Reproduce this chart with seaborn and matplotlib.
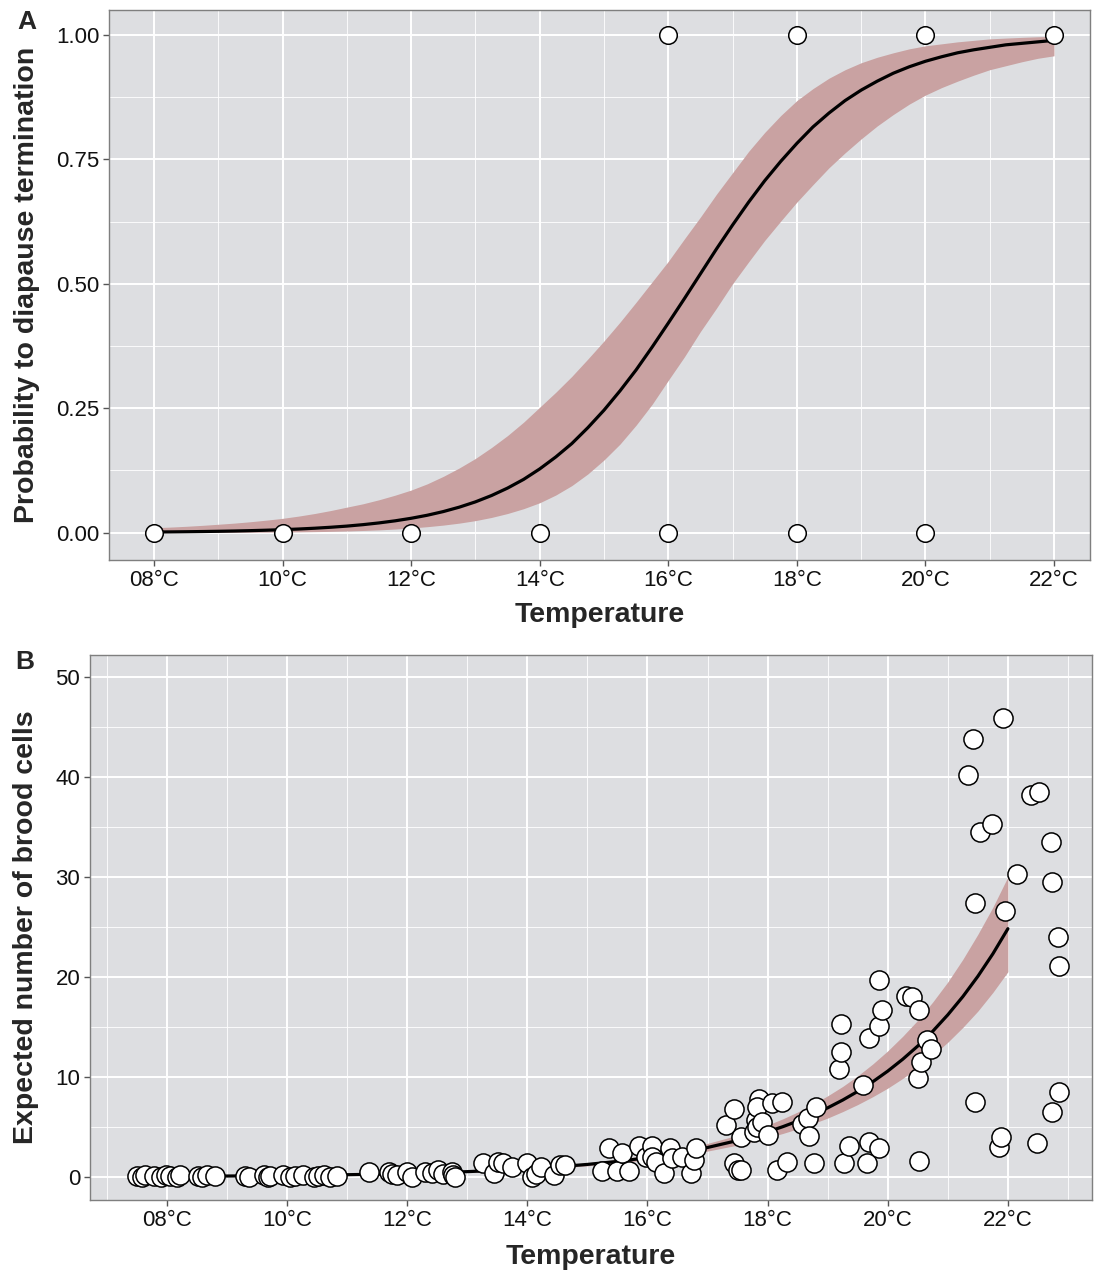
import numpy as np
import pandas as pd
import matplotlib
matplotlib.use("Agg")
import matplotlib.pyplot as plt
import seaborn as sns
from matplotlib.ticker import MultipleLocator

# panel A: observed termination (0/1) per temperature
temp_a = [8, 10, 12, 14, 16, 18, 20, 16, 18, 20, 22]
term_a = [0, 0, 0, 0, 0, 0, 0, 1, 1, 1, 1]

# fitted probability curve and confidence band, read every 0.25 degC
fit_temp_a = np.arange(8, 22.01, 0.25)
fit_a = [0.0012, 0.00147, 0.0018, 0.00219, 0.00268, 0.00327, 0.00399, 0.00487,
         0.00594, 0.00725, 0.00884, 0.0108, 0.0131, 0.016, 0.0195, 0.0237,
         0.0288, 0.0349, 0.0423, 0.0512, 0.0618, 0.0745, 0.0895, 0.107,
         0.128, 0.152, 0.179, 0.211, 0.246, 0.285, 0.327, 0.373,
         0.421, 0.470, 0.520, 0.570, 0.618, 0.664, 0.707, 0.746,
         0.782, 0.815, 0.843, 0.868, 0.889, 0.907, 0.923, 0.936,
         0.947, 0.956, 0.964, 0.970, 0.975, 0.980, 0.983, 0.986, 0.989]
low_a = [0.00015, 0.00019, 0.00025, 0.00033, 0.00042, 0.00055, 0.00072, 0.00093,
         0.0012, 0.00155, 0.002, 0.00255, 0.0033, 0.0043, 0.0055, 0.0072,
         0.0093, 0.0119, 0.0151, 0.0191, 0.0241, 0.0305, 0.0384, 0.0481,
         0.060, 0.0755, 0.0945, 0.118, 0.146, 0.178, 0.216, 0.258,
         0.306, 0.353, 0.404, 0.451, 0.500, 0.544, 0.587, 0.626,
         0.664, 0.699, 0.733, 0.763, 0.791, 0.817, 0.840, 0.861,
         0.879, 0.894, 0.907, 0.919, 0.930, 0.938, 0.946, 0.953, 0.958]
up_a = [0.0098, 0.0111, 0.0127, 0.0146, 0.0168, 0.0191, 0.0219, 0.0251,
        0.0287, 0.0332, 0.0384, 0.0444, 0.0512, 0.0579, 0.066, 0.0752,
        0.0855, 0.098, 0.113, 0.130, 0.149, 0.171, 0.195, 0.222,
        0.252, 0.282, 0.314, 0.349, 0.385, 0.423, 0.463, 0.504,
        0.545, 0.590, 0.634, 0.680, 0.723, 0.766, 0.804, 0.838,
        0.868, 0.892, 0.913, 0.930, 0.944, 0.955, 0.964, 0.972,
        0.978, 0.982, 0.986, 0.989, 0.992, 0.9936, 0.995, 0.9962, 0.997]

# panel B: brood cells per female vs temperature
temp_b = [7.50, 7.58, 7.63, 7.78, 7.91, 7.98, 8.05, 8.16, 8.22, 8.52, 8.58, 8.66, 8.80,
          9.30, 9.36, 9.61, 9.68, 9.72, 9.94, 10.05, 10.13, 10.27, 10.45, 10.52, 10.62, 10.72, 10.83,
          11.36, 11.69, 11.75, 11.83, 12.00, 12.08, 12.30, 12.41, 12.52, 12.60, 12.74, 12.77, 12.80,
          13.27, 13.44, 13.52, 13.60, 13.74, 13.99, 14.08, 14.15, 14.22, 14.44, 14.55, 14.63,
          15.24, 15.36, 15.49, 15.58, 15.69, 15.86, 15.97, 16.08, 16.08, 16.15, 16.27, 16.38, 16.41,
          16.58, 16.72, 16.77, 16.80,
          17.30, 17.44, 17.44, 17.50, 17.55, 17.55, 17.77, 17.80, 17.83, 17.86, 17.83, 17.91, 18.00,
          18.08, 18.16, 18.24, 18.33, 18.57, 18.67, 18.80, 18.69, 18.77,
          19.19, 19.22, 19.22, 19.27, 19.36, 19.58, 19.66, 19.68, 19.69, 19.85, 19.86, 19.86, 19.91,
          20.30, 20.41, 20.50, 20.52, 20.52, 20.55, 20.65, 20.72,
          21.33, 21.42, 21.45, 21.46, 21.53, 21.73, 21.85, 21.88, 21.92, 21.95, 22.15, 22.39, 22.48,
          22.51, 22.72, 22.73, 22.74, 22.84, 22.85, 22.85]
cells_b = [0.1, 0.0, 0.2, 0.1, 0.0, 0.2, 0.1, 0.0, 0.2, 0.1, 0.0, 0.2, 0.1,
           0.1, 0.0, 0.2, 0.0, 0.1, 0.2, 0.0, 0.1, 0.2, 0.0, 0.1, 0.2, 0.0, 0.1,
           0.5, 0.5, 0.3, 0.2, 0.5, 0.0, 0.5, 0.4, 0.7, 0.3, 0.5, 0.2, 0.0,
           1.4, 0.4, 1.5, 1.4, 1.0, 1.4, 0.0, 0.3, 1.0, 0.2, 1.2, 1.2,
           0.6, 2.9, 0.6, 2.4, 0.6, 3.1, 2.0, 3.1, 2.0, 1.5, 0.4, 2.9, 1.9,
           2.0, 0.4, 1.7, 2.9,
           5.2, 6.8, 1.4, 0.7, 0.7, 4.0, 4.5, 5.7, 5.0, 7.8, 7.0, 5.5, 4.2,
           7.4, 0.7, 7.5, 1.5, 5.3, 5.9, 7.0, 4.1, 1.4,
           10.8, 12.5, 15.3, 1.4, 3.1, 9.2, 1.4, 13.9, 3.5, 2.9, 15.1, 19.7, 16.7,
           18.1, 18.0, 9.9, 16.7, 1.6, 11.5, 13.7, 12.8,
           40.2, 43.8, 27.4, 7.5, 34.5, 35.3, 3.0, 4.0, 45.9, 26.6, 30.3, 38.2, 3.4,
           38.5, 33.5, 29.5, 6.5, 24.0, 21.1, 8.5]

# fitted expected number of brood cells and band
fit_temp_b = [7.5, 8, 8.5, 9, 9.5, 10, 10.5, 11, 11.5, 12, 12.5, 13, 13.5, 14, 14.5,
              15, 15.5, 16, 16.5, 17, 17.5, 18, 18.25, 18.5, 18.75, 19, 19.25, 19.5,
              19.75, 20, 20.25, 20.5, 20.75, 21, 21.25, 21.5, 21.75, 22]
fit_b = [0.052, 0.064, 0.079, 0.098, 0.121, 0.150, 0.185, 0.229, 0.283, 0.351,
         0.434, 0.537, 0.664, 0.822, 1.017, 1.259, 1.557, 1.927, 2.385, 2.951,
         3.651, 4.518, 5.025, 5.590, 6.218, 6.917, 7.694, 8.559, 9.522, 10.59,
         11.78, 13.10, 14.58, 16.22, 18.04, 20.07, 22.32, 24.83]
low_b = [0.036, 0.046, 0.058, 0.073, 0.092, 0.117, 0.147, 0.186, 0.233, 0.293,
         0.368, 0.462, 0.577, 0.722, 0.897, 1.117, 1.381, 1.709, 2.104, 2.591,
         3.190, 3.928, 4.347, 4.811, 5.323, 5.894, 6.540, 7.243, 8.027, 8.886,
         9.86, 10.94, 12.15, 13.48, 14.96, 16.59, 18.46, 20.53]
up_b = [0.073, 0.089, 0.108, 0.131, 0.159, 0.193, 0.233, 0.283, 0.344, 0.420,
        0.512, 0.624, 0.764, 0.936, 1.152, 1.419, 1.755, 2.172, 2.702, 3.361,
        4.179, 5.197, 5.809, 6.495, 7.262, 8.117, 9.056, 10.115, 11.30, 12.615,
        14.08, 15.68, 17.51, 19.51, 21.77, 24.27, 26.98, 30.02]

temp_ticks = [8, 10, 12, 14, 16, 18, 20, 22]
temp_labels = ["08°C", "10°C", "12°C", "14°C", "16°C", "18°C", "20°C", "22°C"]

sns.set_theme(style="darkgrid", rc={
    "axes.facecolor": "#DDDEE1",
    "grid.color": "white",
    "axes.edgecolor": "#7F7F7F",
    "axes.linewidth": 1.0,
})
plt.rcParams["font.family"] = ["Liberation Sans", "DejaVu Sans"]

ribbon = "#C9A2A2"

fig = plt.figure(figsize=(10.94, 12.75), dpi=100)
ax_a = fig.add_axes([109 / 1094, 1 - 560 / 1275, 981 / 1094, 550 / 1275])
ax_b = fig.add_axes([90 / 1094, 1 - 1200 / 1275, 1002 / 1094, 545 / 1275])

df_fit_a = pd.DataFrame({"Temperature": fit_temp_a, "p": fit_a})
df_a = pd.DataFrame({"Temperature": temp_a, "term": term_a})
ax_a.fill_between(fit_temp_a, low_a, up_a, color=ribbon, lw=0, zorder=2)
sns.lineplot(data=df_fit_a, x="Temperature", y="p", ax=ax_a, color="black", lw=2.3, zorder=3)
sns.scatterplot(data=df_a, x="Temperature", y="term", ax=ax_a, s=160, color="white",
                edgecolor="black", linewidth=1.1, zorder=4)
ax_a.set_xlim(7.3, 22.56)
ax_a.set_ylim(-0.055, 1.05)
ax_a.set_yticks([0, 0.25, 0.5, 0.75, 1.0])
ax_a.set_yticklabels(["0.00", "0.25", "0.50", "0.75", "1.00"])
ax_a.yaxis.set_minor_locator(MultipleLocator(0.125))

df_fit_b = pd.DataFrame({"Temperature": fit_temp_b, "cells": fit_b})
df_b = pd.DataFrame({"Temperature": temp_b, "cells": cells_b})
ax_b.fill_between(fit_temp_b, low_b, up_b, color=ribbon, lw=0, zorder=2)
sns.lineplot(data=df_fit_b, x="Temperature", y="cells", ax=ax_b, color="black", lw=2.3, zorder=3)
sns.scatterplot(data=df_b, x="Temperature", y="cells", ax=ax_b, s=190, color="white",
                edgecolor="black", linewidth=1.1, zorder=4)
ax_b.set_xlim(6.72, 23.4)
ax_b.set_ylim(-2.3, 52.2)
ax_b.set_yticks([0, 10, 20, 30, 40, 50])
ax_b.yaxis.set_minor_locator(MultipleLocator(5))

for ax, ylab, yx, xy in [(ax_a, "Probability to diapause termination", -0.084, -0.1),
                         (ax_b, "Expected number of brood cells", -0.064, -0.105)]:
    ax.set_xticks(temp_ticks)
    ax.set_xticklabels(temp_labels)
    ax.xaxis.set_minor_locator(MultipleLocator(1))
    ax.grid(which="major", color="white", lw=1.4)
    ax.grid(which="minor", color="white", lw=0.6)
    ax.tick_params(which="major", direction="out", length=4, width=1, color="#555555",
                   labelsize=16, labelcolor="#111111", bottom=True, left=True, pad=3)
    ax.tick_params(which="minor", length=0)
    ax.set_xlabel("Temperature", fontsize=20.5, fontweight="bold")
    ax.set_ylabel(ylab, fontsize=20.5, fontweight="bold")
    ax.xaxis.set_label_coords(0.5, xy)
    ax.xaxis.label.set_va("center")
    ax.yaxis.set_label_coords(yx, 0.5)
    ax.yaxis.label.set_va("center")
    for sp in ax.spines.values():
        sp.set_visible(True)
        sp.set_color("#7F7F7F")

fig.text(27 / 1094, 1 - 22 / 1275, "A", fontsize=19, fontweight="bold", ha="center", va="center")
fig.text(25 / 1094, 1 - 662 / 1275, "B", fontsize=19, fontweight="bold", ha="center", va="center")

fig.savefig("out.png", dpi=100)
